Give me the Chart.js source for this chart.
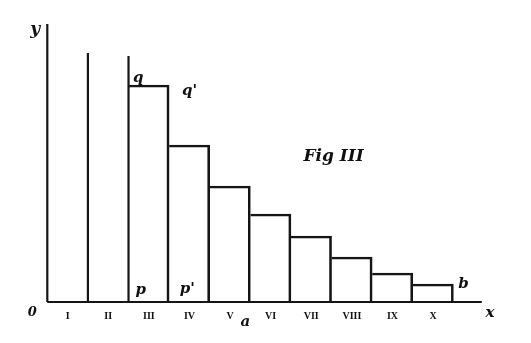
<!DOCTYPE html>
<html>
<head>
<meta charset="utf-8">
<script src="https://cdn.jsdelivr.net/npm/chart.js@4"></script>
<style>
  html, body { margin: 0; padding: 0; background: #fff; }
  #wrap { width: 531px; height: 343px; }
</style>
</head>
<body>
<div id="wrap"><canvas id="figChart"></canvas></div>
<script>
// ten unit strips along the x axis, numbered in roman numerals
const stripLabels = ['I', 'II', 'III', 'IV', 'V', 'VI', 'VII', 'VIII', 'IX', 'X'];
// height of each strip (null = strip runs off the top, no lid)
const stripHeights = [null, null, 217, 157, 116, 88, 66, 45, 29, 18];
// the open upright lines of strips I and II: x position and their height
const openLineX = [0, 1, 2];
const openLineTop = [278, 249, 246];
const axisEnd = 10.7;

const barData = stripHeights.map((h, i) => ({ x: i + 0.5, y: h }));

const lineData = [];
openLineX.forEach((x, i) => {
    lineData.push({ x: x, y: 0 }, { x: x, y: openLineTop[i] }, { x: x + 0.01, y: null });
});

const tickValues = stripLabels.map((s, i) => i + 0.5);

// lettering written on the figure
const notes = [
    { text: 'y', x: -0.3, y: 272, size: 17 },
    { text: '0', x: -0.37, y: -11, size: 13 },
    { text: 'x', x: 10.9, y: -11, size: 15 },
    { text: 'q', x: 2.24, y: 224, size: 15 },
    { text: "q'", x: 3.5, y: 211, size: 15 },
    { text: 'p', x: 2.3, y: 12, size: 15 },
    { text: "p'", x: 3.45, y: 13, size: 15 },
    { text: 'b', x: 10.25, y: 18, size: 15 },
    { text: 'a', x: 4.88, y: -20, size: 15 },
    { text: 'Fig III', x: 7.05, y: 145, size: 17 }
];

const notesPlugin = {
    id: 'notes',
    afterDraw(chart) {
        const ctx = chart.ctx;
        const xs = chart.scales.x, ys = chart.scales.y;
        ctx.save();
        ctx.fillStyle = '#111';
        ctx.textAlign = 'center';
        ctx.textBaseline = 'middle';
        notes.forEach(n => {
            ctx.font = 'italic bold ' + n.size + 'px "DejaVu Serif"';
            ctx.fillText(n.text, xs.getPixelForValue(n.x), ys.getPixelForValue(n.y));
        });
        ctx.restore();
    }
};

new Chart(document.getElementById('figChart'), {
    type: 'bar',
    data: {
        datasets: [{
            type: 'line',
            data: lineData,
            borderColor: '#151515',
            borderWidth: 2.2,
            pointRadius: 0,
            spanGaps: false,
            clip: false
        }, {
            type: 'line',
            data: [{ x: 0, y: 0 }, { x: axisEnd, y: 0 }],
            borderColor: '#151515',
            borderWidth: 2.2,
            pointRadius: 0,
            clip: false
        }, {
            data: barData,
            backgroundColor: 'rgba(0,0,0,0)',
            borderColor: '#151515',
            borderWidth: { top: 2, right: 2, left: 0, bottom: 0 },
            borderSkipped: false,
            barPercentage: 1,
            categoryPercentage: 1
        }]
    },
    options: {
        responsive: true,
        maintainAspectRatio: false,
        animation: false,
        layout: { autoPadding: false, padding: { left: 27, right: 37, top: 24, bottom: 13 } },
        plugins: { legend: { display: false }, tooltip: { enabled: false } },
        scales: {
            x: {
                type: 'linear',
                offset: false,
                min: -0.5,
                max: 11,
                grid: { display: false, drawTicks: false },
                border: { display: false },
                afterBuildTicks: scale => {
                    scale.ticks = tickValues.map(v => ({ value: v }));
                },
                ticks: {
                    autoSkip: false,
                    maxRotation: 0,
                    padding: 8,
                    color: '#111',
                    callback: (v, i) => stripLabels[i],
                    font: { family: 'Liberation Serif', weight: 'bold', size: 10 }
                }
            },
            y: {
                display: false,
                min: 0,
                max: 278
            }
        }
    },
    plugins: [notesPlugin]
});
</script>
</body>
</html>
